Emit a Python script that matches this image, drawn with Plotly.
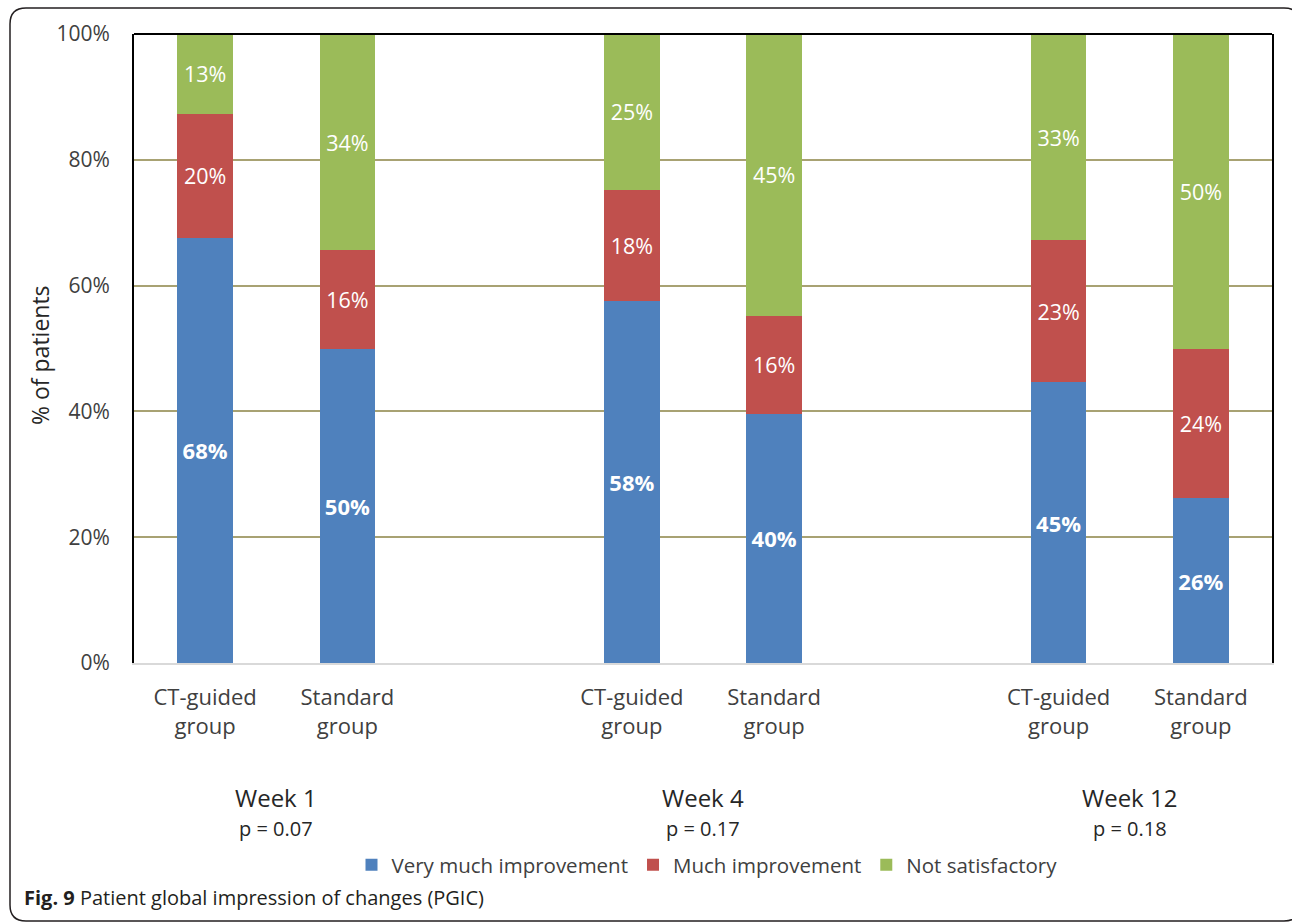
import plotly.graph_objects as go

# ---- data ----
weeks = ["Week 1", "Week 4", "Week 12"]
p_values = ["p = 0.07", "p = 0.17", "p = 0.18"]
groups = ["CT-guided<br>group", "Standard<br>group"]
series_names = ["Very much improvement", "Much improvement", "Not satisfactory"]
# order: W1 CT, W1 Std, W4 CT, W4 Std, W12 CT, W12 Std
very_much = [67.6, 49.9, 57.6, 39.6, 44.6, 26.2]
much = [19.7, 15.7, 17.6, 15.6, 22.6, 23.8]
not_satisfactory = [12.7, 34.4, 24.8, 44.8, 32.8, 50.0]
y_ticks = [0, 20, 40, 60, 80, 100]

colors = ["#4F81BD", "#C0504D", "#9BBB59"]

# ---- layout geometry (pixels) ----
W, H = 1292, 923
L, R, T, B = 134, 1272, 34, 663
PW, PH = R - L, B - T

def px2paper(px, py):
    return (px - L) / PW, (B - py) / PH

# x positions: two groups per week, with an empty slot between weeks
xpos = [wi * 3 + gi for wi in range(len(weeks)) for gi in range(len(groups))]
ticktext = [g for _ in weeks for g in groups]

font_fam = "Open Sans"

fig = go.Figure()
for name, vals, col in zip(series_names, [very_much, much, not_satisfactory], colors):
    bold = name == "Very much improvement"
    fig.add_trace(go.Bar(
        x=xpos, y=vals, name=name, marker=dict(color=col, line=dict(width=0)),
        width=0.39,
        texttemplate=("<b>%{y:.0f}%</b>" if bold else "%{y:.0f}%"),
        textposition="inside", insidetextanchor="middle", textangle=0,
        constraintext="none",
        textfont=dict(color="white", size=(22 if bold else 21.5), family=font_fam),
        hoverinfo="skip",
    ))

fig.update_layout(
    width=W, height=H, barmode="stack",
    margin=dict(l=L, r=W - R, t=T, b=H - B, autoexpand=False),
    paper_bgcolor="white", plot_bgcolor="white",
    font=dict(family=font_fam, color="#404040", size=20),
    showlegend=True,
    legend=dict(orientation="h", x=(707 - L) / PW, xanchor="center",
                y=px2paper(0, 865)[1], yanchor="middle",
                font=dict(size=20.5, color="#404040", family=font_fam),
                traceorder="normal", itemwidth=30, bgcolor="rgba(0,0,0,0)"),
    xaxis=dict(range=[-0.5, 7.5], tickmode="array", tickvals=xpos, ticktext=ticktext,
               showline=True, linecolor="#D9D9D9", linewidth=2, ticks="",
               showgrid=False, zeroline=False, fixedrange=True,
               ticklabelstandoff=14,
               tickfont=dict(size=22, color="#404040", family=font_fam)),
    yaxis=dict(range=[0, 100], tickmode="array", tickvals=y_ticks,
               ticktext=[f"{v}%" for v in y_ticks],
               showline=True, linecolor="black", linewidth=2, mirror=True,
               showgrid=True, gridcolor="#A8A273", gridwidth=1.5,
               zeroline=False, ticks="", ticklabelstandoff=18,
               tickfont=dict(size=21, color="#404040", family=font_fam)),
)

# top border of plot
fig.add_shape(type="line", xref="paper", yref="paper", x0=0, x1=1, y0=1, y1=1,
              line=dict(color="black", width=2))

# week labels and p-values
for wi, (wk, pv) in enumerate(zip(weeks, p_values)):
    xc = wi * 3 + 0.5
    fig.add_annotation(x=xc, xref="x", y=px2paper(0, 798)[1], yref="paper",
                       text=wk, showarrow=False, yanchor="middle",
                       font=dict(size=24, color="#262626", family=font_fam))
    fig.add_annotation(x=xc, xref="x", y=px2paper(0, 829)[1], yref="paper",
                       text=pv, showarrow=False, yanchor="middle",
                       font=dict(size=20, color="#262626", family=font_fam))

# y axis title
ax, ay = px2paper(40, 355)
fig.add_annotation(x=ax, y=ay, xref="paper", yref="paper", text="% of patients",
                   textangle=-90, showarrow=False, xanchor="center", yanchor="middle",
                   font=dict(size=23, color="#262626", family=font_fam))

# caption
cx, cy = px2paper(22, 897)
fig.add_annotation(x=cx, y=cy, xref="paper", yref="paper",
                   text="<b>Fig. 9</b> Patient global impression of changes (PGIC)",
                   showarrow=False, xanchor="left", yanchor="middle",
                   font=dict(size=20, color="#231F20", family=font_fam))

# rounded outer frame
x0, y0, x1, y1, r = 10, 8, 1300, 921, 16
def P(px, py):
    a, b = px2paper(px, py)
    return f"{a:.5f},{b:.5f}"
path = (f"M {P(x0 + r, y0)} L {P(x1 - r, y0)} Q {P(x1, y0)} {P(x1, y0 + r)} "
        f"L {P(x1, y1 - r)} Q {P(x1, y1)} {P(x1 - r, y1)} "
        f"L {P(x0 + r, y1)} Q {P(x0, y1)} {P(x0, y1 - r)} "
        f"L {P(x0, y0 + r)} Q {P(x0, y0)} {P(x0 + r, y0)} Z")
fig.add_shape(type="path", path=path, xref="paper", yref="paper",
              line=dict(color="#231F20", width=1.5), layer="above")

fig.write_html("out.html")
